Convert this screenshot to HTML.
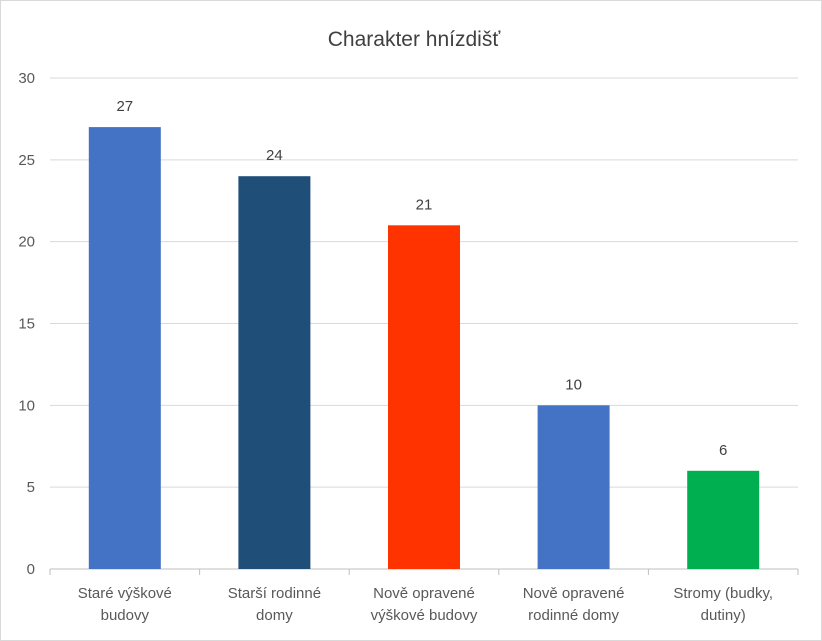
<!DOCTYPE html>
<html><head><meta charset="utf-8"><style>
html,body{margin:0;padding:0;background:#fff;}
svg{display:block;font-family:"Liberation Sans",sans-serif;}
</style></head><body>
<svg id="c" width="822" height="641" viewBox="0 0 822 641">
<rect x="0.5" y="0.5" width="821" height="640" fill="#fff" stroke="#d9d9d9"/>
<text x="414" y="46" text-anchor="middle" font-size="21" fill="#404040">Charakter hnízdišť</text>
<g id="grid"></g><g id="bars"></g><g id="labels"></g>
</svg>
<script>
const categories=[["Staré výškové","budovy"],["Starší rodinné","domy"],["Nově opravené","výškové budovy"],["Nově opravené","rodinné domy"],["Stromy (budky,","dutiny)"]];
const values=[27,24,21,10,6];
const colors=["#4472C4","#1F4E79","#FF3300","#4472C4","#00B050"];
const ticks=[0,5,10,15,20,25,30];
const NS="http://www.w3.org/2000/svg";
const x0=50,x1=798,y0=569,y1=78,ymax=30;
const y=v=>y0-(y0-y1)*v/ymax;
const bw=(x1-x0)/categories.length;
const xc=i=>x0+bw*(i+0.5);
function mk(t,a,p){const e=document.createElementNS(NS,t);for(const k in a)e.setAttribute(k,a[k]);p.appendChild(e);return e;}
const g=document.getElementById('grid'),b=document.getElementById('bars'),l=document.getElementById('labels');
ticks.forEach(t=>{
 const ln=mk('line',{x1:x0,x2:x1,y1:y(t),y2:y(t),stroke:t===0?'#bfbfbf':'#d9d9d9','stroke-width':1},g);
 
 
 const tx=mk('text',{x:35,y:y(t)+5,'text-anchor':'end','font-size':15,fill:'#595959'},g);
 tx.textContent=t;
 
 
});
for(let i=0;i<=categories.length;i++){
 const tk=mk('line',{x1:x0+bw*i,x2:x0+bw*i,y1:y0,y2:y0+6,stroke:'#bfbfbf'},g);
 
 
}
values.forEach((v,i)=>{
 const r=mk('rect',{x:xc(i)-36,width:72,y:y(v),height:y0-y(v),fill:colors[i]},b);
 
 
 const t=mk('text',{x:xc(i),y:y(v)-16,'text-anchor':'middle','font-size':15,fill:'#404040'},l);
 t.textContent=v;
 
 
 categories[i].forEach((s,j)=>{
  const c=mk('text',{x:xc(i),y:598+j*22,'text-anchor':'middle','font-size':15,fill:'#595959'},l);
  c.textContent=s;
  
  
 });
});
</script>
</body></html>
